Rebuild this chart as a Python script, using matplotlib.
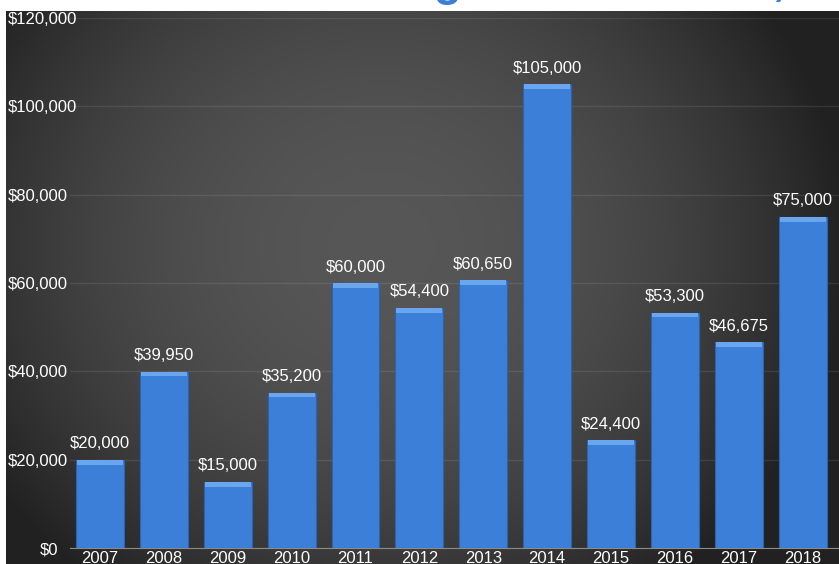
import matplotlib.pyplot as plt
from matplotlib.transforms import ScaledTranslation
import numpy as np

# Grant totals per year
years = ['2007', '2008', '2009', '2010', '2011', '2012',
         '2013', '2014', '2015', '2016', '2017', '2018']
amounts = [20000, 39950, 15000, 35200, 60000, 54400,
           60650, 105000, 24400, 53300, 46675, 75000]
y_ticks = [0, 20000, 40000, 60000, 80000, 100000, 120000]
title_text = 'Annual total grants awarded, 2007\u20132018'

plt.rcParams['font.family'] = ['Liberation Sans', 'DejaVu Sans']

fig = plt.figure(figsize=(8.39, 5.64), dpi=100)
fig.patch.set_facecolor('white')

# dark radial background (the slide area below the cut-off title)
bg = fig.add_axes([6 / 839, 0, 1 - 6 / 839, 1 - 11 / 564])
bg.set_axis_off()
gx, gy = np.meshgrid(np.linspace(-1, 1, 400), np.linspace(-1, 1, 300))
r = np.sqrt(((gx + 0.1) / 0.95) ** 2 + ((gy + 0.15) / 1.3) ** 2)
shade = np.clip(0.34 - 0.15 * r ** 2, 0.13, 0.34)
bg.imshow(np.dstack([shade, shade, shade]), aspect='auto',
          extent=[0, 1, 0, 1], zorder=0)

# title, mostly cut off at the top edge
fig.text(156 / 839, 1 + 5 / 564, title_text, color='#3b7fd8', fontsize=33,
         fontweight='bold', va='baseline', ha='left', zorder=10)

ax = fig.add_axes([70 / 839, 16 / 564, 1 - 70 / 839, 530 / 564])
ax.patch.set_alpha(0)
x = np.arange(len(years))

ax.bar(x, amounts, width=0.75, color='#3b7fd8', edgecolor='#2b63b0',
       linewidth=0.8, zorder=3)
# lighter top bevel
ax.bar(x, [1100] * len(x), bottom=[a - 1100 for a in amounts], width=0.72,
       color='#6aa6ee', linewidth=0, zorder=4)

for xi, a in zip(x, amounts):
    ax.annotate(f'${a:,}', (xi, a), xytext=(0, 6), textcoords='offset points',
                ha='center', va='bottom', color='white', fontsize=12)

ax.set_xlim(-0.47, len(years) - 0.43)
ax.set_ylim(0, 120000)
ax.set_yticks(y_ticks)
ax.set_yticklabels([f'${v:,}' for v in y_ticks], ha='left')
ax.set_xticks(x)
ax.set_xticklabels(years)
ax.tick_params(axis='both', colors='white', labelsize=12, length=0)
ax.tick_params(axis='y', pad=45)
ax.tick_params(axis='x', pad=2.5)
ax.grid(axis='y', color='white', alpha=0.09, linewidth=1, zorder=0)
for side in ['top', 'right', 'left']:
    ax.spines[side].set_visible(False)
ax.spines['bottom'].set_color('#8a8a8a')
ax.spines['bottom'].set_zorder(5)

# the $0 label sits further right in the original
zero_lab = ax.get_yticklabels()[0]
zero_lab.set_transform(zero_lab.get_transform()
                       + ScaledTranslation(0.32, 0, fig.dpi_scale_trans))

fig.savefig('out.png', dpi=100)
